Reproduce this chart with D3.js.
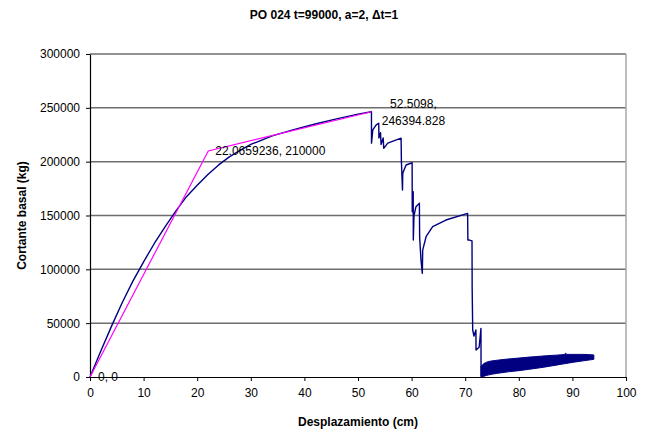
<!DOCTYPE html>
<html>
<head>
<meta charset="utf-8">
<script src="https://cdn.jsdelivr.net/npm/d3@7"></script>
<style>
  body { margin: 0; background: #fff; }
  svg { font-family: "Liberation Sans", Arial, sans-serif; }
</style>
</head>
<body>
<svg id="chart" width="652" height="435"></svg>
<script>
// pushover curve (blue)
var pushDisp = [0, 2, 4, 6, 8, 10, 12, 14, 16, 18, 20, 22, 24, 26, 28, 30, 34, 38, 42, 46, 50, 52.51,
    52.52, 52.76, 53.4, 53.87, 53.9, 54.2, 54.3, 54.7, 54.8, 55.55, 58.04,
    58.1, 58.3, 58.35, 58.97, 60.1, 60.12, 60.3, 60.32, 60.45, 60.82, 61.45,
    61.5, 61.75, 62.0, 62.07, 62.7, 63.93, 66.4, 70.45, 70.5, 70.8, 71.27,
    71.3, 71.4, 71.64, 72.0, 72.02, 72.6, 72.94, 72.96];
var pushShear = [0, 24000, 47000, 69000, 89000, 107000, 124000, 139500, 154000, 167500, 178000, 188000, 197000, 204500, 210500, 216000, 224000, 229800, 235000, 239800, 244200, 246394,
    217200, 229500, 234100, 235700, 222000, 227000, 216000, 222000, 212400, 217200, 221800,
    200000, 173700, 189200, 196900, 199000, 153500, 172000, 127200, 150000, 158200, 161300,
    130000, 108700, 96300, 117900, 130300, 139600, 145800, 152000, 127200, 127200, 126500,
    82400, 43650, 38100, 43650, 25100, 27600, 45200, 300];

// oscillating tail after collapse, drawn as its envelope
var bandDisp  = [72.96, 73.5, 74, 76, 78, 80, 82, 84, 86, 88, 88.5, 88.7, 89, 92, 94];
var bandUpper = [10000, 12500, 13800, 15600, 16700, 17600, 18500, 19300, 20000, 20700, 21000, 22000, 21000, 21000, 20500];
var bandLower = [300, 700, 1500, 3400, 4800, 5900, 7200, 8600, 10200, 11900, 12300, 12400, 12700, 15000, 16400];

// idealised bilinear curve (magenta)
var biDisp  = [0, 22.0659236, 52.5098];
var biShear = [0, 210000, 246394.828];

var xTicks = d3.range(0, 101, 10);
var yTicks = d3.range(0, 300001, 50000);

var svg = d3.select("#chart");
var margin = {left: 90, right: 26, top: 54, bottom: 58};
var W = 652, H = 435;

var x = d3.scaleLinear().domain([0, 100]).range([margin.left, W - margin.right]);
var y = d3.scaleLinear().domain([0, 300000]).range([H - margin.bottom, margin.top]);

// grid lines
svg.append("g").selectAll("line")
    .data(yTicks.filter(function(d) { return d > 0; }))
    .enter().append("line")
    .attr("x1", x(0)).attr("x2", x(100))
    .attr("y1", function(d) { return y(d); })
    .attr("y2", function(d) { return y(d); })
    .attr("stroke", "#6e6e6e")
    .attr("stroke-width", 1.5);

// right border of plot area
svg.append("line")
    .attr("x1", x(100)).attr("x2", x(100))
    .attr("y1", y(300000)).attr("y2", y(0))
    .attr("stroke", "#a8a8a8")
    .attr("stroke-width", 1.5);

// axes
var xAxis = svg.append("g")
    .attr("transform", "translate(0," + y(0) + ")")
    .call(d3.axisBottom(x).tickValues(xTicks).tickSize(4).tickSizeOuter(0));
var yAxis = svg.append("g")
    .attr("transform", "translate(" + x(0) + ",0)")
    .call(d3.axisLeft(y).tickValues(yTicks).tickSize(4).tickSizeOuter(0).tickFormat(d3.format("d")));

[xAxis, yAxis].forEach(function(a) {
    a.select(".domain").attr("stroke", "#000").attr("stroke-width", 1.2);
    a.selectAll(".tick line").attr("stroke", "#000");
    a.selectAll("text").attr("font-size", 12).attr("fill", "#000")
        .attr("font-family", "Liberation Sans, Arial, sans-serif");
});
xAxis.selectAll("text").attr("dy", "1.05em");
yAxis.selectAll("text").attr("dx", "-0.25em");

// series
var line = d3.line()
    .x(function(d) { return x(d[0]); })
    .y(function(d) { return y(d[1]); });

svg.append("path")
    .datum(pushDisp.map(function(d, i) { return [d, pushShear[i]]; }))
    .attr("d", line)
    .attr("fill", "none")
    .attr("stroke", "#000080")
    .attr("stroke-width", 1.4)
    .attr("stroke-linejoin", "round");

svg.append("path")
    .datum(bandDisp.map(function(d, i) { return [d, bandUpper[i], bandLower[i]]; }))
    .attr("d", d3.area()
        .x(function(d) { return x(d[0]); })
        .y0(function(d) { return y(d[2]); })
        .y1(function(d) { return y(d[1]); })
        .curve(d3.curveMonotoneX))
    .attr("fill", "#000080")
    .attr("stroke", "#000080")
    .attr("stroke-width", 1);

svg.append("path")
    .datum(biDisp.map(function(d, i) { return [d, biShear[i]]; }))
    .attr("d", line)
    .attr("fill", "none")
    .attr("stroke", "#ff00ff")
    .attr("stroke-width", 1.2);

// data labels of the bilinear curve
var labels = svg.append("g")
    .attr("font-size", 12)
    .attr("fill", "#000");

labels.append("text")
    .attr("x", x(biDisp[0]) + 8)
    .attr("y", y(biShear[0]))
    .attr("dy", "0.35em")
    .text("0, 0");

labels.append("text")
    .attr("x", x(biDisp[1]) + 7)
    .attr("y", y(biShear[1]))
    .attr("dy", "0.35em")
    .text("22.0659236, 210000");

var peak = labels.append("text")
    .attr("text-anchor", "middle")
    .attr("x", x(biDisp[2]) + 42)
    .attr("y", y(biShear[2]) - 8);
peak.append("tspan").attr("x", x(biDisp[2]) + 42).attr("dy", "0.35em").text("52.5098,");
peak.append("tspan").attr("x", x(biDisp[2]) + 42).attr("dy", "1.45em").text("246394.828");

// titles
svg.append("text")
    .attr("x", 324).attr("y", 19)
    .attr("text-anchor", "middle")
    .attr("font-size", 12).attr("font-weight", "bold")
    .text("PO 024 t=99000, a=2, \u0394t=1");

svg.append("text")
    .attr("x", (x(0) + x(100)) / 2).attr("y", 426)
    .attr("text-anchor", "middle")
    .attr("font-size", 12).attr("font-weight", "bold")
    .text("Desplazamiento (cm)");

svg.append("text")
    .attr("transform", "translate(26," + (y(0) + y(300000)) / 2 + ") rotate(-90)")
    .attr("text-anchor", "middle")
    .attr("font-size", 12).attr("font-weight", "bold")
    .text("Cortante basal (kg)");
</script>
</body>
</html>
